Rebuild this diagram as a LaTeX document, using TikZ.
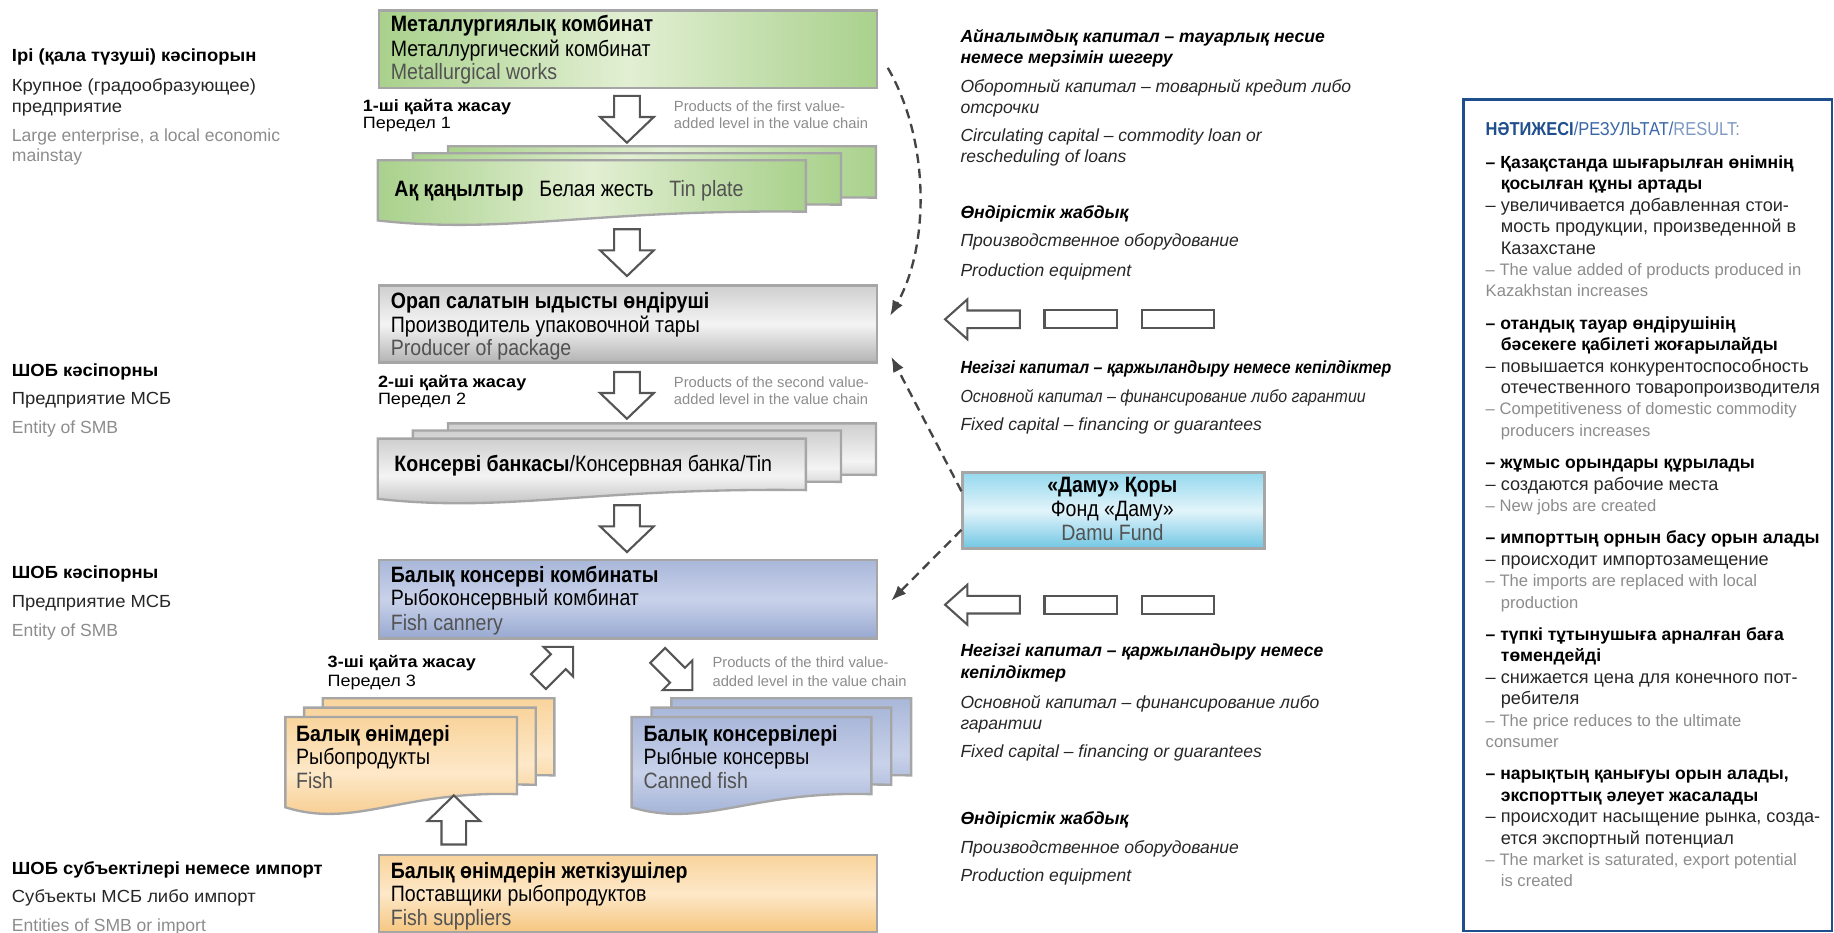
\documentclass[tikz,border=0pt]{standalone}
\usepackage{fontspec}
\setmainfont{Liberation Sans}
\newfontfamily\condfont[FakeStretch=0.88]{Liberation Sans}
\newfontfamily\widefont[FakeStretch=1.1]{Liberation Sans}
\newfontfamily\sidefont[FakeStretch=1.05]{Liberation Sans}
\newfontfamily\tightfont[FakeStretch=0.91]{Liberation Sans}
\usetikzlibrary{arrows.meta,calc}

\definecolor{grnA}{HTML}{A9D18C}
\definecolor{grnB}{HTML}{E2EFD3}
\definecolor{gryA}{HTML}{B3B3B3}
\definecolor{gryT}{HTML}{CFCFCF}
\definecolor{gryB}{HTML}{F4F4F4}
\definecolor{bluA}{HTML}{97A8D0}
\definecolor{bluT}{HTML}{A9B7D9}
\definecolor{bluB}{HTML}{C9D2EA}
\definecolor{orgA}{HTML}{F6C680}
\definecolor{orgT}{HTML}{F9D49C}
\definecolor{orgB}{HTML}{FDE8C8}
\definecolor{cyaT}{HTML}{95D8EE}
\definecolor{cyaA}{HTML}{72C6E4}
\definecolor{cyaB}{HTML}{E2F4FA}
\definecolor{edge}{HTML}{A6A6A6}
\definecolor{resblue}{HTML}{1F4E8C}
\definecolor{resmid}{HTML}{3A66A8}
\definecolor{reslight}{HTML}{7E98C4}
\definecolor{txtgray}{HTML}{8C8C8C}
\definecolor{arrowgray}{HTML}{555555}
\definecolor{dashgray}{HTML}{444444}

% wavy-bottom sheet: x, y (top left), width, height at right edge
\newcommand\docpath[4]{(#1,#2) -- (#1+#3,#2) -- (#1+#3,#2+#4) .. controls (#1+0.5*#3,#2+0.95*#4) and (#1+0.3*#3,#2+1.45*#4) .. (#1,#2+1.17*#4) -- cycle}

\tikzset{
  blockline/.style={draw=arrowgray, fill=white, line width=1.8, line join=miter},
  pics/blockarrow/.style n args={4}{code={
    \draw[blockline] (0,0) -- (#2,-#3) -- (#2,-#4) -- (#1,-#4) -- (#1,#4) -- (#2,#4) -- (#2,#3) -- cycle;}},
  bar/.style={draw=arrowgray, fill=white, line width=1.8, minimum width=62, minimum height=15.5, inner sep=0},
  box/.style={draw=edge, line width=2, inner sep=0, anchor=north west},
  greenfill/.style={left color=grnA, right color=grnA, middle color=grnB},
  grayfill/.style={top color=gryT, bottom color=gryA, middle color=gryB},
  bluefill/.style={top color=bluT, bottom color=bluA, middle color=bluB},
  orangefill/.style={top color=orgT, bottom color=orgA, middle color=orgB},
  cyanfill/.style={top color=cyaT, bottom color=cyaA, middle color=cyaB},
  sheet/.style={draw=edge, line width=2},
  % left column
  sideb/.style={anchor=base west, inner sep=0, font=\sidefont\fontsize{15}{18}\selectfont\bfseries},
  sider/.style={anchor=base west, inner sep=0, font=\sidefont\fontsize{15}{18}\selectfont, text=black!85},
  sideg/.style={anchor=base west, inner sep=0, font=\fontsize{15}{18}\selectfont, text=txtgray},
  % result panel
  resb/.style={anchor=base west, inner sep=0, font=\fontsize{15}{18}\selectfont\bfseries},
  resr/.style={anchor=base west, inner sep=0, font=\fontsize{15.5}{18}\selectfont, text=black!85},
  resg/.style={anchor=base west, inner sep=0, font=\fontsize{14.2}{18}\selectfont, text=txtgray},
  % support column
  itr/.style={anchor=base west, inner sep=0, font=\fontsize{15}{18}\selectfont\itshape, text=black!85},
  itb/.style={anchor=base west, inner sep=0, font=\fontsize{15}{18}\selectfont\bfseries\itshape},
  itrt/.style={anchor=base west, inner sep=0, font=\tightfont\fontsize{15}{18}\selectfont\itshape, text=black!85},
  itbt/.style={anchor=base west, inner sep=0, font=\tightfont\fontsize{15}{18}\selectfont\bfseries\itshape},
  % small stage labels
  small/.style={anchor=base west, inner sep=0, font=\widefont\fontsize{14}{15}\selectfont},
  smallb/.style={anchor=base west, inner sep=0, font=\widefont\fontsize{14}{15}\selectfont\bfseries},
  smallg/.style={anchor=base west, inner sep=0, font=\fontsize{12.6}{15}\selectfont, text=txtgray},
  % box texts
  bxb/.style={anchor=base west, inner sep=0, font=\condfont\fontsize{19}{20}\selectfont\bfseries},
  bxr/.style={anchor=base west, inner sep=0, font=\condfont\fontsize{19}{20}\selectfont},
  bxg/.style={bxr, text=black!68},
  dashconn/.style={draw=dashgray, line width=2, dash pattern=on 8 off 5, -{Latex[length=13,width=10]}},
}

\begin{document}
\begin{tikzpicture}[x=1pt,y=-1pt]
\useasboundingbox (0,0) rectangle (1568,797);

% ---------- left column ----------
\node[sideb] (l1a) at (10,53) {Ірі (қала түзуші) кәсіпорын};
\node[sider] (l1b) at (10,78) {Крупное (градообразующее)};
\node[sider] (l1c) at (10,96) {предприятие};
\node[sideg] (l1d) at (10,121) {Large enterprise, a local economic};
\node[sideg] (l1e) at (10,138) {mainstay};

\node[sideb] (l2a) at (10,322) {ШОБ кәсіпорны};
\node[sider] (l2b) at (10,346) {Предприятие МСБ};
\node[sideg] (l2c) at (10,371) {Entity of SMB};

\node[sideb] (l3a) at (10,495) {ШОБ кәсіпорны};
\node[sider] (l3b) at (10,519) {Предприятие МСБ};
\node[sideg] (l3c) at (10,544) {Entity of SMB};

\node[sideb] (l4a) at (10,748) {ШОБ субъектілері немесе импорт};
\node[sider] (l4b) at (10,772) {Субъекты МСБ либо импорт};
\node[sideg] (l4c) at (10,796) {Entities of SMB or import};

% ---------- value chain ----------
\node[box, greenfill, minimum width=426, minimum height=66] (met) at (323,8) {};
\node[bxb] (metkz) at (334,27) {Металлургиялық комбинат};
\node[bxr] (metru) at (334,48) {Металлургический комбинат};
\node[bxg] (meten) at (334,68) {Metallurgical works};

\node[smallb] (p1kz) at (310,95) {1-ші қайта жасау};
\node[small] (p1ru) at (310,110) {Передел 1};
\node[smallg] (p1en) at (576,95) {Products of the first value-};
\node[smallg] (p1en2) at (576,110) {added level in the value chain};
\pic[rotate=90] at (536,122) {blockarrow={40}{22}{23}{11}};

% tin plate sheets
\path[sheet, greenfill] \docpath{383}{125}{366}{44};
\path[sheet, greenfill] \docpath{353}{131}{366}{44};
\path[sheet, greenfill] \docpath{323}{137}{366}{44};
\node[bxb] (tinkz) at (337,168) {Ақ қаңылтыр};
\node[bxr] (tinru) at (461,168) {Белая жесть};
\node[bxg] (tinen) at (572,168) {Tin plate};

\pic[rotate=90] at (536,236) {blockarrow={40}{22}{23}{11}};

\node[box, grayfill, minimum width=426, minimum height=66] (pack) at (323,243) {};
\node[bxb] (packkz) at (334,264) {Орап салатын ыдысты өндіруші};
\node[bxr] (packru) at (334,284) {Производитель упаковочной тары};
\node[bxg] (packen) at (334,304) {Producer of package};

\node[smallb] (p2kz) at (323,331) {2-ші қайта жасау};
\node[small] (p2ru) at (323,346) {Передел 2};
\node[smallg] (p2en) at (576,331) {Products of the second value-};
\node[smallg] (p2en2) at (576,346) {added level in the value chain};
\pic[rotate=90] at (536,358) {blockarrow={40}{22}{23}{11}};

% can sheets
\path[sheet, grayfill] \docpath{383}{362}{366}{44};
\path[sheet, grayfill] \docpath{353}{368}{366}{44};
\path[sheet, grayfill] \docpath{323}{375}{366}{44};
\node[bxr] (can) at (337,403) {\textbf{Консерві банкасы}/Консервная банка/Tin};

\pic[rotate=90] at (536,472) {blockarrow={40}{22}{23}{11}};

\node[box, bluefill, minimum width=426, minimum height=67] (cannery) at (323,478) {};
\node[bxb] (cankz) at (334,498) {Балық консерві комбинаты};
\node[bxr] (canru) at (334,518) {Рыбоконсервный комбинат};
\node[bxg] (canen) at (334,539) {Fish cannery};

\node[smallb] (p3kz) at (280,571) {3-ші қайта жасау};
\node[small] (p3ru) at (280,587) {Передел 3};
\node[smallg] (p3en) at (609,571) {Products of the third value-};
\node[smallg] (p3en2) at (609,587) {added level in the value chain};
\pic[rotate=-135] at (490,553) {blockarrow={42}{18}{18}{9}};
\pic[rotate=135] at (592,590) {blockarrow={42}{18}{18}{9}};

% fish sheets
\path[sheet, orangefill] \docpath{276}{597}{198}{66};
\path[sheet, orangefill] \docpath{260}{605}{198}{66};
\path[sheet, orangefill] \docpath{244}{613}{198}{66};
\node[bxb] (fishkz) at (253,634) {Балық өнімдері};
\node[bxr] (fishru) at (253,654) {Рыбопродукты};
\node[bxg] (fishen) at (253,674) {Fish};

% canned fish sheets
\path[sheet, bluefill] \docpath{574}{597}{205}{66};
\path[sheet, bluefill] \docpath{557}{605}{205}{66};
\path[sheet, bluefill] \docpath{540}{613}{205}{66};
\node[bxb] (cfkz) at (550,634) {Балық консервілері};
\node[bxr] (cfru) at (550,654) {Рыбные консервы};
\node[bxg] (cfen) at (550,674) {Canned fish};

\pic[rotate=-90] at (388,680) {blockarrow={42}{22}{22.5}{10.5}};

\node[box, orangefill, minimum width=426, minimum height=66] (supp) at (323,730) {};
\node[bxb] (suppkz) at (334,751) {Балық өнімдерін жеткізушілер};
\node[bxr] (suppru) at (334,771) {Поставщики рыбопродуктов};
\node[bxg] (suppen) at (334,791) {Fish suppliers};

% ---------- support column ----------
\node[itb] (f1a) at (821,36) {Айналымдық капитал – тауарлық несие};
\node[itb] (f1b) at (821,54) {немесе мерзімін шегеру};
\node[itr] (f1c) at (821,79) {Оборотный капитал – товарный кредит либо};
\node[itr] (f1d) at (821,97) {отсрочки};
\node[itr] (f1e) at (821,121) {Circulating capital – commodity loan or};
\node[itr] (f1f) at (821,139) {rescheduling of loans};

\node[itb] (e1a) at (821,187) {Өндірістік жабдық};
\node[itr] (e1b) at (821,211) {Производственное оборудование};
\node[itr] (e1c) at (821,236) {Production equipment};

\pic at (808,273) {blockarrow={64}{19}{17}{7.5}};
\node[bar] (bar1a) at (924,273) {};
\node[bar] (bar1b) at (1007,273) {};

\node[itbt] (k1a) at (821,319) {Негізгі капитал – қаржыландыру немесе кепілдіктер};
\node[itrt] (k1b) at (821,344) {Основной капитал – финансирование либо гарантии};
\node[itr] (k1c) at (821,368) {Fixed capital – financing or guarantees};

\node[box, cyanfill, minimum width=258, minimum height=65] (damu) at (822,403) {};
\node[bxb, anchor=base] (damukz) at (951,421) {«Даму» Қоры};
\node[bxr, anchor=base] (damuru) at (951,442) {Фонд «Даму»};
\node[bxg, anchor=base] (damuen) at (951,462) {Damu Fund};

\pic at (808,517) {blockarrow={64}{19}{17}{7.5}};
\node[bar] (bar2a) at (924,517) {};
\node[bar] (bar2b) at (1007,517) {};

\node[itb] (k2a) at (821,561) {Негізгі капитал – қаржыландыру немесе};
\node[itb] (k2b) at (821,580) {кепілдіктер};
\node[itr] (k2c) at (821,606) {Основной капитал – финансирование либо};
\node[itr] (k2d) at (821,624) {гарантии};
\node[itr] (k2e) at (821,648) {Fixed capital – financing or guarantees};

\node[itb] (e2a) at (821,705) {Өндірістік жабдық};
\node[itr] (e2b) at (821,730) {Производственное оборудование};
\node[itr] (e2c) at (821,754) {Production equipment};

% ---------- financing links ----------
\coordinate (loanstart) at ($(met.east)+(8,16)$);
\coordinate (loanend) at ($(pack.east)+(10,-7)$);
\draw[dashconn] (loanstart) .. controls (795,120) and (795,210) .. (loanend);
\draw[dashconn] ([yshift=16.5pt]damu.west) -- ($(pack.south east)+(11,-6)$);
\draw[dashconn] ([yshift=-16.5pt]damu.west) -- ($(cannery.east)+(11,1)$);

% ---------- result panel ----------
\node[box, draw=resblue, line width=2.2, minimum width=315, minimum height=711] (res) at (1250,84) {};
\node[anchor=base west, inner sep=0, font=\condfont\fontsize{16}{18}\selectfont] (restitle) at (1270,116)
  {\textcolor{resblue}{\bfseries НӘТИЖЕСІ}\textcolor{resmid}{/РЕЗУЛЬТАТ/}\textcolor{reslight}{RESULT:}};

\node[resb] (r1a) at (1270,144) {– Қазақстанда шығарылған өнімнің};
\node[resb] (r1b) at (1283,162.3) {қосылған құны артады};
\node[resr] (r1c) at (1270,180.6) {– увеличивается добавленная стои-};
\node[resr] (r1d) at (1283,198.9) {мость продукции, произведенной в};
\node[resr] (r1e) at (1283,217.2) {Казахстане};
\node[resg] (r1f) at (1270,235.5) {– The value added of products produced in};
\node[resg] (r1g) at (1270,253.8) {Kazakhstan increases};

\node[resb] (r2a) at (1270,281.5) {– отандық тауар өндірушінің};
\node[resb] (r2b) at (1283,299.8) {бәсекеге қабілеті жоғарылайды};
\node[resr] (r2c) at (1270,318.1) {– повышается конкурентоспособность};
\node[resr] (r2d) at (1283,336.4) {отечественного товаропроизводителя};
\node[resg] (r2e) at (1270,354.7) {– Competitiveness of domestic commodity};
\node[resg] (r2f) at (1283,373) {producers increases};

\node[resb] (r3a) at (1270,400.7) {– жұмыс орындары құрылады};
\node[resr] (r3b) at (1270,419) {– создаются рабочие места};
\node[resg] (r3c) at (1270,437.3) {– New jobs are created};

\node[resb] (r4a) at (1270,465) {– импорттың орнын басу орын алады};
\node[resr] (r4b) at (1270,483.3) {– происходит импортозамещение};
\node[resg] (r4c) at (1270,501.6) {– The imports are replaced with local};
\node[resg] (r4d) at (1283,519.9) {production};

\node[resb] (r5a) at (1270,547.6) {– түпкі тұтынушыға арналған баға};
\node[resb] (r5b) at (1283,565.9) {төмендейді};
\node[resr] (r5c) at (1270,584.2) {– снижается цена для конечного пот-};
\node[resr] (r5d) at (1283,602.5) {ребителя};
\node[resg] (r5e) at (1270,620.8) {– The price reduces to the ultimate};
\node[resg] (r5f) at (1270,639.1) {consumer};

\node[resb] (r6a) at (1270,666.8) {– нарықтың қанығуы орын алады,};
\node[resb] (r6b) at (1283,685.1) {экспорттық әлеует жасалады};
\node[resr] (r6c) at (1270,703.4) {– происходит насыщение рынка, созда-};
\node[resr] (r6d) at (1283,721.7) {ется экспортный потенциал};
\node[resg] (r6e) at (1270,740) {– The market is saturated, export potential};
\node[resg] (r6f) at (1283,758.3) {is created};
\end{tikzpicture}
\end{document}
